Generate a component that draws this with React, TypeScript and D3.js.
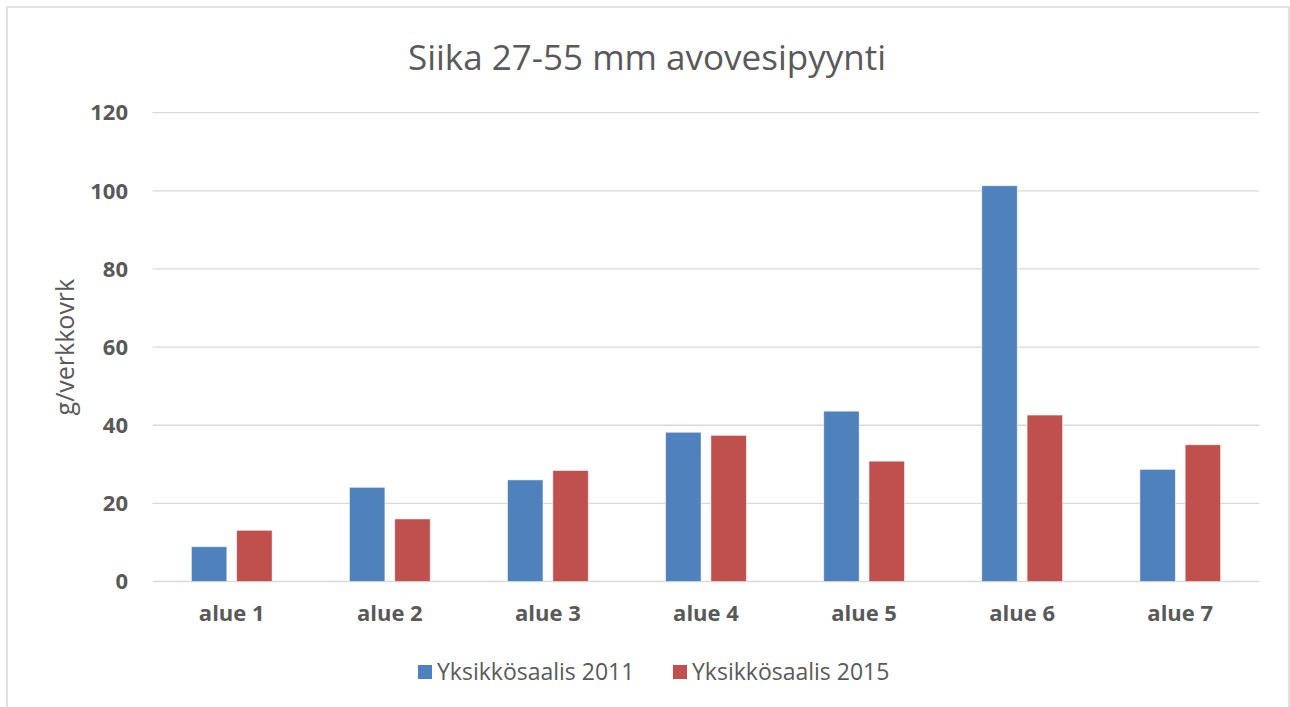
import React from "react";
import * as d3 from "d3";

const categories = ["alue 1", "alue 2", "alue 3", "alue 4", "alue 5", "alue 6", "alue 7"];
const seriesNames = ["Yksikkösaalis 2011", "Yksikkösaalis 2015"];
const values2011 = [8.9, 24.1, 26.0, 38.2, 43.6, 101.3, 28.7];
const values2015 = [13.1, 16.0, 28.4, 37.4, 30.8, 42.6, 35.0];
const yTicks = [0, 20, 40, 60, 80, 100, 120];
const colors = ["#4F81BD", "#C0504D"];

const W = 1290;
const H = 707;
const left = 152.7;
const right = 1259.3;
const top = 112.7;
const bottom = 581.5;
const FONT = "'Open Sans', 'Noto Sans', sans-serif";
const TXT = "#595959";

export default function App() {
  const x0 = d3.scaleBand<string>().domain(categories).range([left, right]).padding(0);
  const y = d3.scaleLinear().domain([0, 120]).range([bottom, top]);
  const groupW = 80.7;
  const x1 = d3.scaleBand<string>().domain(seriesNames).range([0, groupW]).paddingInner(0.218).paddingOuter(0);
  const data = [values2011, values2015];

  return (
    <div style={{ position: "fixed", left: 0, top: 0, width: W, height: H, background: "#fff" }}>
      <svg width={W} height={H} style={{ display: "block" }}>
        <rect x={7} y={7} width={1282} height={720} fill="#fff" stroke="#D9D9D9" strokeWidth={1.5} />
        <text x={647} y={70} textAnchor="middle" fontFamily={FONT} fontSize={35} fill={TXT}>
          Siika 27-55 mm avovesipyynti
        </text>
        {yTicks.map((t) => (
          <g key={t}>
            <line x1={left} x2={right} y1={y(t)} y2={y(t)} stroke="#D9D9D9" strokeWidth={1.3} />
            <text x={128} y={y(t)} dy="0.35em" textAnchor="end" fontFamily={FONT} fontWeight="bold" fontSize={22} fill={TXT}>
              {t}
            </text>
          </g>
        ))}
        <text
          transform={`translate(74, ${(top + bottom) / 2}) rotate(-90)`}
          textAnchor="middle"
          fontFamily={FONT}
          fontSize={25}
          fill={TXT}
        >
          g/verkkovrk
        </text>
        {categories.map((c, i) => {
          const cx = (x0(c) as number) + x0.bandwidth() / 2;
          return (
            <g key={c}>
              {seriesNames.map((s, si) => {
                const v = data[si][i];
                const bx = cx - groupW / 2 + (x1(s) as number);
                return (
                  <rect
                    key={s}
                    x={bx}
                    y={y(v)}
                    width={x1.bandwidth()}
                    height={y(0) - y(v)}
                    fill={colors[si]}
                    stroke="#fff"
                    strokeOpacity={0.6}
                    strokeWidth={0.8}
                  />
                );
              })}
              <text x={cx} y={613} dy="0.35em" textAnchor="middle" fontFamily={FONT} fontWeight="bold" fontSize={22} fill={TXT}>
                {c}
              </text>
            </g>
          );
        })}
        {seriesNames.map((s, si) => {
          const lx = si === 0 ? 418 : 673;
          return (
            <g key={s}>
              <rect x={lx} y={665} width={14} height={14} fill={colors[si]} />
              <text x={lx + 19} y={672} dy="0.35em" fontFamily={FONT} fontSize={23} fill={TXT}>
                {s}
              </text>
            </g>
          );
        })}
      </svg>
    </div>
  );
}
